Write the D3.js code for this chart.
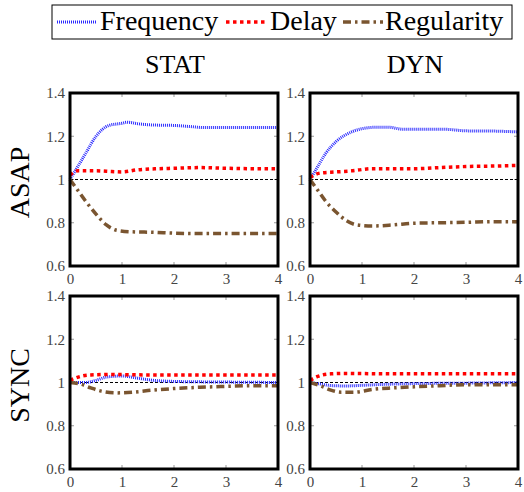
<!DOCTYPE html>
<html><head><meta charset="utf-8">
<script src="https://cdn.jsdelivr.net/npm/d3@7"></script>
<style>body{margin:0;background:#fff}svg{display:block}text{font-family:'Liberation Serif','DejaVu Serif',serif}</style>
</head><body>
<svg id="c" width="524" height="492"></svg>
<script>
const seriesNames = ["Frequency", "Delay", "Regularity"];
const colNames = ["STAT", "DYN"];
const rowNames = ["ASAP", "SYNC"];
const xTicks = [0, 1, 2, 3, 4];
const yTicks = [0.6, 0.8, 1, 1.2, 1.4];

// [x, y] samples per panel
const asapStatFreq = [[0,1.0],[0.1,1.04],[0.3,1.12],[0.5,1.2],[0.75,1.25],[1.0,1.26],[1.1,1.265],[1.3,1.258],[1.6,1.252],[2.0,1.25],[2.3,1.245],[2.6,1.24],[3.0,1.24],[3.5,1.24],[4.0,1.24]];
const asapStatDelay = [[0,1.02],[0.15,1.04],[0.5,1.04],[0.8,1.037],[1.0,1.035],[1.3,1.045],[1.7,1.05],[2.0,1.052],[2.5,1.055],[3.0,1.052],[3.5,1.05],[4.0,1.05]];
const asapStatReg = [[0,1.0],[0.15,0.95],[0.3,0.9],[0.5,0.84],[0.7,0.79],[0.9,0.765],[1.2,0.758],[1.6,0.756],[2.0,0.752],[2.5,0.75],[3.0,0.75],[4.0,0.75]];

const asapDynFreq = [[0,1.0],[0.15,1.06],[0.3,1.12],[0.5,1.175],[0.8,1.22],[1.0,1.235],[1.3,1.242],[1.5,1.242],[1.8,1.232],[2.2,1.232],[2.6,1.232],[3.0,1.225],[3.5,1.224],[4.0,1.22]];
const asapDynDelay = [[0,1.01],[0.2,1.03],[0.5,1.035],[0.8,1.04],[1.2,1.05],[1.6,1.05],[2.0,1.05],[2.5,1.055],[3.0,1.06],[3.5,1.062],[4.0,1.065]];
const asapDynReg = [[0,1.0],[0.15,0.95],[0.3,0.9],[0.5,0.85],[0.7,0.81],[0.9,0.79],[1.2,0.785],[1.6,0.79],[2.0,0.798],[2.5,0.8],[3.0,0.802],[3.5,0.805],[4.0,0.805]];

const syncStatFreq = [[0,1.0],[0.3,1.0],[0.5,1.01],[0.7,1.025],[1.0,1.03],[1.3,1.02],[1.6,1.01],[2.0,1.005],[2.5,1.003],[3.0,1.002],[4.0,1.0]];
const syncStatDelay = [[0,1.01],[0.2,1.028],[0.4,1.035],[0.8,1.037],[1.5,1.035],[2.5,1.035],[3.5,1.035],[4.0,1.035]];
const syncStatReg = [[0,1.0],[0.2,0.993],[0.4,0.975],[0.6,0.96],[0.9,0.952],[1.2,0.955],[1.6,0.965],[2.0,0.972],[2.5,0.978],[3.0,0.982],[3.5,0.985],[4.0,0.985]];

const syncDynFreq = [[0,1.0],[0.2,0.993],[0.4,0.986],[0.7,0.984],[1.0,0.987],[1.5,0.992],[2.0,0.995],[3.0,0.997],[4.0,1.0]];
const syncDynDelay = [[0,1.01],[0.15,1.028],[0.4,1.04],[0.7,1.042],[1.5,1.04],[2.5,1.04],[3.5,1.04],[4.0,1.04]];
const syncDynReg = [[0,1.0],[0.2,0.985],[0.4,0.965],[0.6,0.955],[0.85,0.955],[1.2,0.968],[1.6,0.975],[2.0,0.98],[2.5,0.985],[3.0,0.99],[3.5,0.99],[4.0,0.99]];

const panels = [
  {row:0, col:0, series:[asapStatFreq, asapStatDelay, asapStatReg]},
  {row:0, col:1, series:[asapDynFreq, asapDynDelay, asapDynReg]},
  {row:1, col:0, series:[syncStatFreq, syncStatDelay, syncStatReg]},
  {row:1, col:1, series:[syncDynFreq, syncDynDelay, syncDynReg]}
];

const styles = [
  {color:"#2a2aff", width:3, dash:"1,1"},
  {color:"#ff0000", width:3.5, dash:"3.5,3.5"},
  {color:"#7a5530", width:3.5, dash:"8,4,2.5,4"}
];

const svg = d3.select("#c");
const font = "'Liberation Serif', 'DejaVu Serif', serif";
const colX = [70, 310];
const rowY = [93, 296];
const pw = 208, ph = 173;

// Legend
const lg = svg.append("g");
lg.append("rect").attr("x",52).attr("y",5).attr("width",460).attr("height",34)
  .attr("fill","#fff").attr("stroke","#000").attr("stroke-width",1);
const legItems = [{lx:57, tx:100},{lx:226, tx:270},{lx:343, tx:385}];
seriesNames.forEach((n,i)=>{
  const s = styles[i];
  lg.append("line").attr("x1",legItems[i].lx).attr("x2",legItems[i].lx+40)
    .attr("y1",22).attr("y2",22).attr("stroke",s.color).attr("stroke-width",s.width)
    .attr("stroke-dasharray",s.dash);
  lg.append("text").attr("x",legItems[i].tx).attr("y",30).text(n)
    .style("font-family",font).style("font-size","28px").attr("fill","#000");
});

// Column titles
colNames.forEach((n,i)=>{
  svg.append("text").attr("x",colX[i]+pw/2+1).attr("y",73).attr("text-anchor","middle")
    .style("font-family",font).style("font-size","26px").text(n);
});
// Row titles
rowNames.forEach((n,i)=>{
  const cy = rowY[i]+ph/2+3;
  svg.append("text").attr("transform",`translate(29,${cy}) rotate(-90)`)
    .attr("text-anchor","middle").style("font-family",font).style("font-size","28px").text(n);
});

panels.forEach(p=>{
  const x0 = colX[p.col], y0 = rowY[p.row];
  const x = d3.scaleLinear().domain([0,4]).range([x0, x0+pw]);
  const y = d3.scaleLinear().domain([0.6,1.4]).range([y0+ph, y0]);
  const g = svg.append("g");
  const tickCol = "#999";
  yTicks.forEach(t=>{
    g.append("line").attr("x1",x0).attr("x2",x0+4).attr("y1",y(t)).attr("y2",y(t)).attr("stroke",tickCol);
    g.append("line").attr("x1",x0+pw-4).attr("x2",x0+pw).attr("y1",y(t)).attr("y2",y(t)).attr("stroke",tickCol);
  });
  xTicks.forEach(t=>{
    g.append("line").attr("x1",x(t)).attr("x2",x(t)).attr("y1",y0).attr("y2",y0+4).attr("stroke",tickCol);
    g.append("line").attr("x1",x(t)).attr("x2",x(t)).attr("y1",y0+ph-4).attr("y2",y0+ph).attr("stroke",tickCol);
  });
  const ya = d3.axisLeft(y).tickValues(yTicks).tickSize(0).tickPadding(5).tickFormat(d=>String(+d.toFixed(1)));
  const yg = g.append("g").attr("transform",`translate(${x0},0)`).call(ya);
  yg.select(".domain").remove();
  yg.attr("font-family",null);
  yg.selectAll("text").style("font-family",font).style("font-size","15px").attr("fill","#444");
  const xa = d3.axisBottom(x).tickValues(xTicks).tickSize(0).tickPadding(7).tickFormat(d3.format("d"));
  const xg = g.append("g").attr("transform",`translate(0,${y0+ph})`).call(xa);
  xg.select(".domain").remove();
  xg.attr("font-family",null);
  xg.selectAll("text").style("font-family",font).style("font-size","15px").attr("fill","#444");
  g.append("line").attr("x1",x0).attr("x2",x0+pw).attr("y1",y(1)).attr("y2",y(1))
    .attr("stroke","#000").attr("stroke-width",1).attr("stroke-dasharray","3,2");
  const line = d3.line().x(d=>x(d[0])).y(d=>y(d[1])).curve(d3.curveMonotoneX);
  p.series.forEach((s,i)=>{
    const st = styles[i];
    g.append("path").datum(s).attr("d",line).attr("fill","none")
      .attr("stroke",st.color).attr("stroke-width",st.width).attr("stroke-dasharray",st.dash);
  });
  g.append("rect").attr("x",x0).attr("y",y0).attr("width",pw).attr("height",ph)
    .attr("fill","none").attr("stroke","#000").attr("stroke-width",3);
});
</script>
</body></html>
